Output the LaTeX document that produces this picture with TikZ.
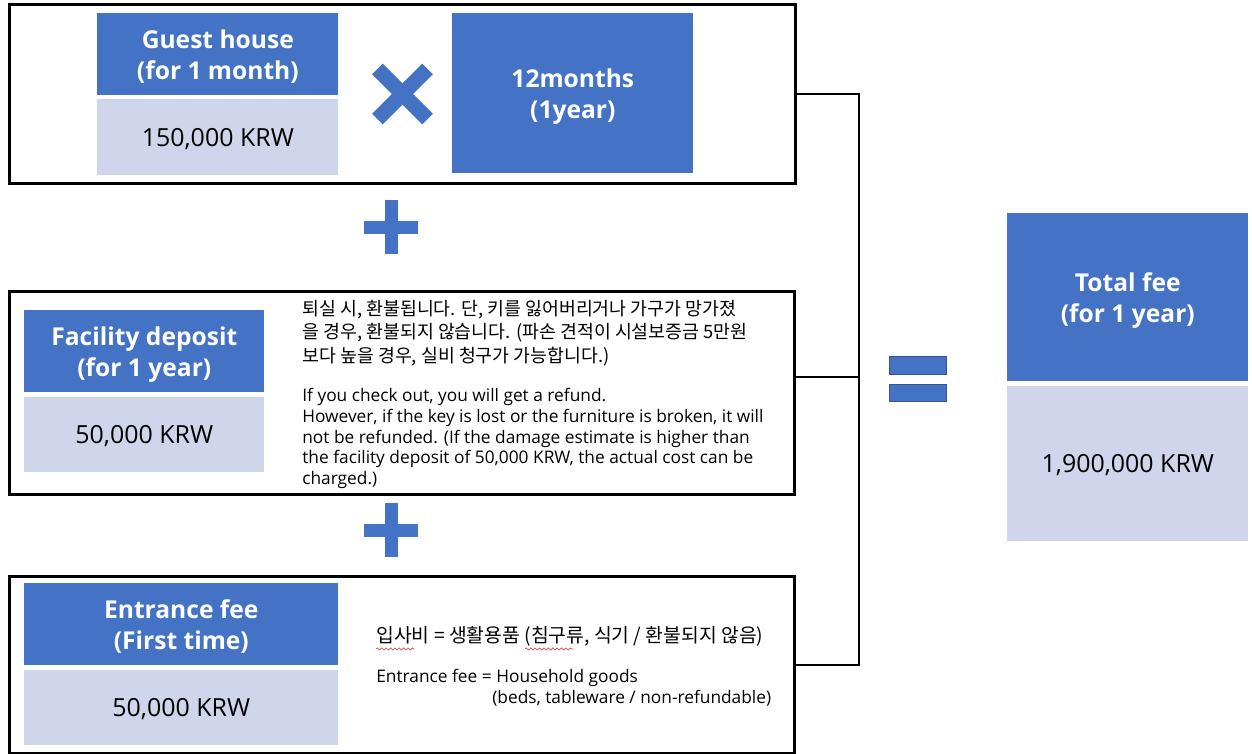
\documentclass[tikz,border=0pt]{standalone}
\usepackage{fontspec}
\setmainfont{Open Sans}
\newfontfamily\krfont{Noto Sans CJK KR}
\usetikzlibrary{positioning}
\usetikzlibrary{decorations.pathmorphing}
\definecolor{headblue}{HTML}{4472C4}
\definecolor{valueblue}{HTML}{CFD5EA}
\definecolor{spellred}{HTML}{D9534F}
\tikzset{
  frame/.style={draw,line width=1.7pt,anchor=north west,inner sep=0pt},
  head/.style={fill=headblue,text=white,anchor=north west,inner sep=0pt,text depth=0pt,align=center,font=\fontsize{14}{17.5}\selectfont\bfseries},
  value/.style={fill=valueblue,anchor=north west,inner sep=0pt,text depth=0pt,font=\fontsize{14.2}{17}\selectfont},
  note/.style={anchor=north west,inner sep=0pt,align=left},
  sign/.style={fill=headblue},
  link/.style={line width=1.4pt},
  squiggle/.style={spellred,line width=0.4pt,decorate,decoration={snake,amplitude=0.6pt,segment length=2.5pt}}
}

\begin{document}
\begin{tikzpicture}[x=0.02cm,y=-0.02cm]
\useasboundingbox (0,0) rectangle (1252,754);

\node [frame,minimum width=15.72cm,minimum height=3.58cm] (gframe) at (8,3) {};
\node [frame,minimum width=15.7cm,minimum height=4.06cm] (fframe) at (8,290) {};
\node [frame,minimum width=15.7cm,minimum height=3.54cm] (eframe) at (8,575) {};

\node [head,minimum width=4.82cm,minimum height=1.64cm] (ghead) at (97,13) {Guest house\\(for 1 month)};
\node [value,minimum width=4.82cm,minimum height=1.52cm] (gval) at (97,99) {150,000 KRW};
\node [head,minimum width=4.82cm,minimum height=3.2cm] (months) at (452,13) {12months\\(1year)};

\node [head,minimum width=4.8cm,minimum height=1.64cm] (fhead) at (24,310) {Facility deposit\\(for 1 year)};
\node [value,minimum width=4.8cm,minimum height=1.5cm] (fval) at (24,397) {50,000 KRW};
\node [note,font=\krfont\fontsize{10.45}{13.3}\selectfont] (fnotekr) at (302,300)
  {퇴실 시, 환불됩니다. 단, 키를 잃어버리거나 가구가 망가졌\\
   을 경우, 환불되지 않습니다. (파손 견적이 시설보증금 5만원\\
   보다 높을 경우, 실비 청구가 가능합니다.)};
\node [note,font=\fontsize{9.85}{11.8}\selectfont] (fnoteen) at (302,388)
  {If you check out, you will get a refund.\\
   However, if the key is lost or the furniture is broken, it will\\
   not be refunded. (If the damage estimate is higher than\\
   the facility deposit of 50,000 KRW, the actual cost can be\\
   charged.)};

\node [head,minimum width=6.28cm,minimum height=1.64cm] (ehead) at (24,583) {Entrance fee\\(First time)};
\node [value,minimum width=6.28cm,minimum height=1.5cm] (eval) at (24,670) {50,000 KRW};
\node [note,anchor=west,font=\krfont\fontsize{11}{13.3}\selectfont] (enotekr) at (376,636)
  {입사비 = 생활용품 (침구류, 식기 / 환불되지 않음)};
\node [note,font=\fontsize{9.85}{11.8}\selectfont] (enoteen) at (376,669)
  {Entrance fee = Household goods\\
   \hspace*{2.32cm}(beds, tableware / non-refundable)};
\draw [squiggle] (376,649) -- (414,649);
\draw [squiggle] (525,649) -- (573,649);

\node [head,minimum width=4.82cm,minimum height=3.36cm] (thead) at (1007,213) {Total fee\\(for 1 year)};
\node [value,minimum width=4.82cm,minimum height=3.1cm] (tval) at (1007,386) {1,900,000 KRW};

\fill [sign,rotate around={45:(402.5,94)}] (367,86.5) rectangle (438,101.5);
\fill [sign,rotate around={-45:(402.5,94)}] (367,86.5) rectangle (438,101.5);
\fill [sign] (364,220.5) rectangle (418,233.5);
\fill [sign] (384.5,200) rectangle (397.5,254);
\fill [sign] (364,523.5) rectangle (418,536.5);
\fill [sign] (384.5,503) rectangle (397.5,557);
\filldraw [sign,draw=headblue!75!black,line width=0.4pt] (889,356) rectangle (946,374);
\filldraw [sign,draw=headblue!75!black,line width=0.4pt] (889,384) rectangle (946,401);

\coordinate (join) at (859,377);
\draw [link] (gframe.east) -| (join) |- (eframe.east);
\draw [link] (fframe.east |- join) -- (join);
\end{tikzpicture}
\end{document}
